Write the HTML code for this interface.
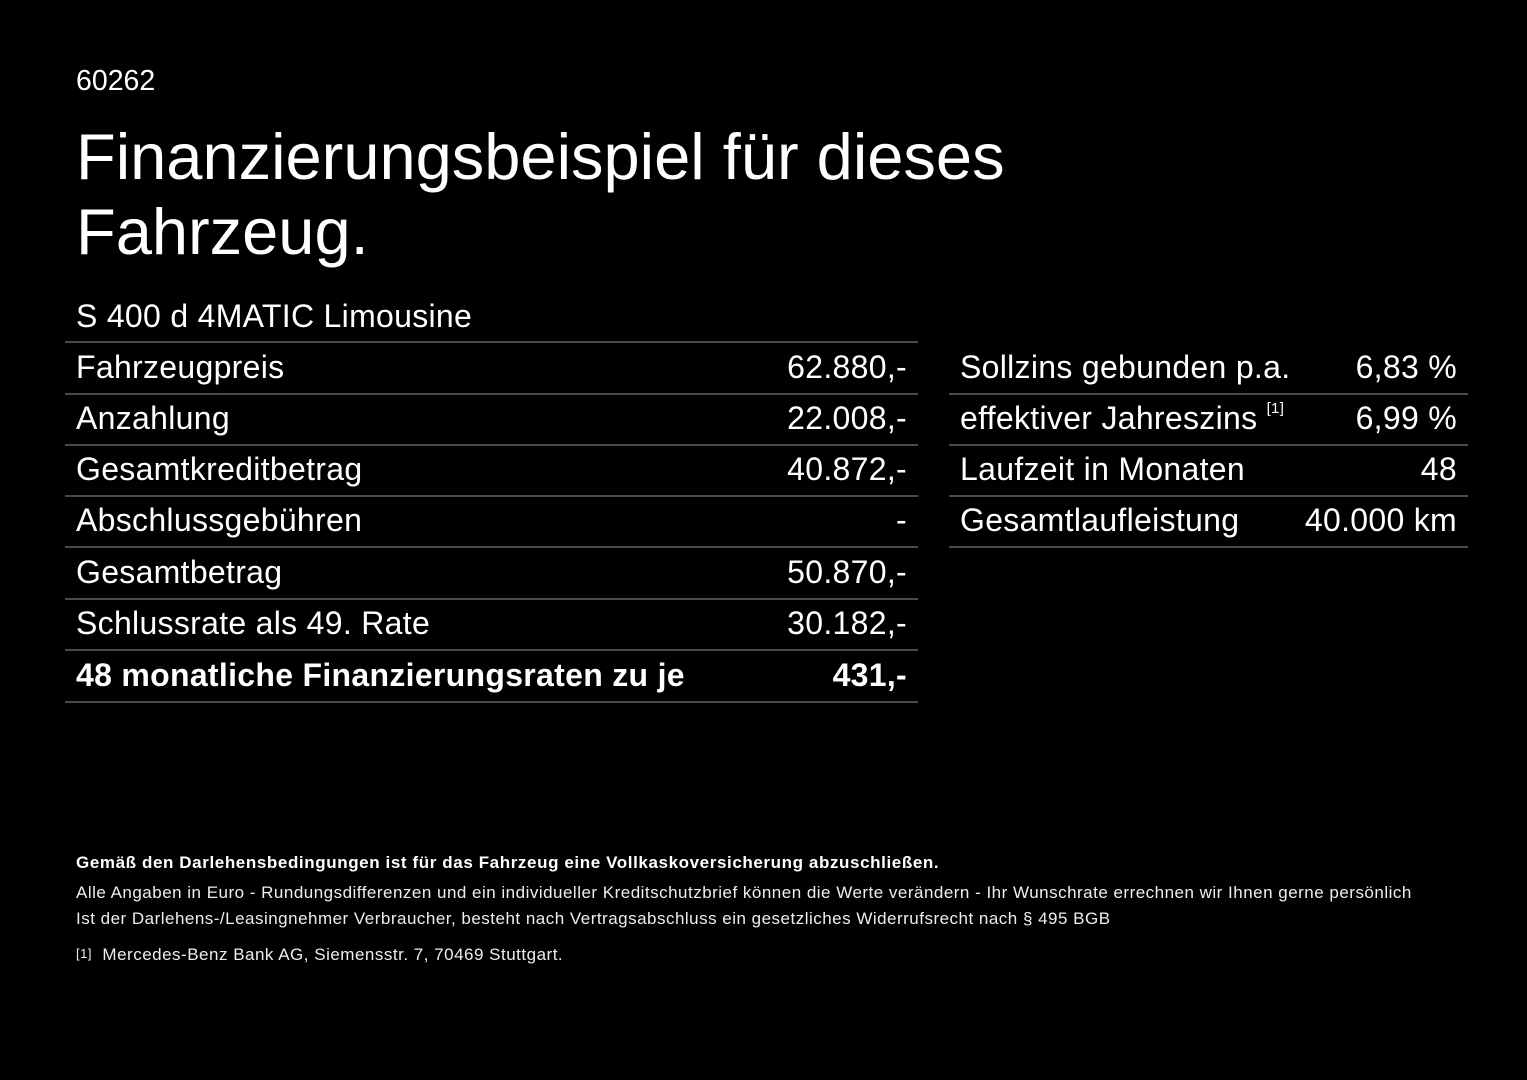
<!DOCTYPE html>
<html><head><meta charset="utf-8"><style>
body{margin:0;width:1527px;height:1080px;background:#000;color:#fff;font-family:"Liberation Sans",Arial,sans-serif;overflow:hidden;position:relative}
.a{position:absolute;white-space:nowrap}
.row{position:absolute;height:51px;border-bottom:2px solid #4a4a4a;font-size:32px;line-height:51px;letter-spacing:0.3px}
.row .l{position:absolute;left:11px}
.row .r{position:absolute;right:11px}
.line{position:absolute;height:2px;background:#4a4a4a}
sup{font-size:15px;vertical-align:top;position:relative;top:-10px}
</style></head><body>
<div class="a" style="left:76px;top:65px;font-size:28.5px;line-height:32px">60262</div>
<div class="a" style="left:76px;top:119px;font-size:65px;line-height:75px">Finanzierungsbeispiel für dieses<br>Fahrzeug.</div>
<div class="a" style="left:76px;top:298px;font-size:32px;line-height:36px;letter-spacing:0.3px">S 400 d 4MATIC Limousine</div>
<div class="line" style="left:65px;width:853px;top:341px"></div>
<div class="row" style="left:65px;width:853px;top:342px"><span class="l">Fahrzeugpreis</span><span class="r">62.880,-</span></div>
<div class="row" style="left:65px;width:853px;top:393px"><span class="l">Anzahlung</span><span class="r">22.008,-</span></div>
<div class="row" style="left:65px;width:853px;top:444px"><span class="l">Gesamtkreditbetrag</span><span class="r">40.872,-</span></div>
<div class="row" style="left:65px;width:853px;top:495px"><span class="l">Abschlussgebühren</span><span class="r">-</span></div>
<div class="row" style="left:65px;width:853px;top:547px"><span class="l">Gesamtbetrag</span><span class="r">50.870,-</span></div>
<div class="row" style="left:65px;width:853px;top:598px"><span class="l">Schlussrate als 49. Rate</span><span class="r">30.182,-</span></div>
<div class="row" style="left:65px;width:853px;top:650px;font-weight:bold"><span class="l">48 monatliche Finanzierungsraten zu je</span><span class="r">431,-</span></div>
<div class="row" style="left:949px;width:519px;top:342px"><span class="l">Sollzins gebunden p.a.</span><span class="r">6,83 %</span></div>
<div class="row" style="left:949px;width:519px;top:393px"><span class="l">effektiver Jahreszins <sup>[1]</sup></span><span class="r">6,99 %</span></div>
<div class="row" style="left:949px;width:519px;top:444px"><span class="l">Laufzeit in Monaten</span><span class="r">48</span></div>
<div class="row" style="left:949px;width:519px;top:495px"><span class="l">Gesamtlaufleistung</span><span class="r">40.000 km</span></div>
<div class="a" style="left:76px;top:853px;font-size:17px;line-height:20px;font-weight:bold;letter-spacing:0.6px">Gemäß den Darlehensbedingungen ist für das Fahrzeug eine Vollkaskoversicherung abzuschließen.</div>
<div class="a" style="left:76px;top:880px;font-size:17px;line-height:26px;color:#eee;letter-spacing:0.49px">Alle Angaben in Euro - Rundungsdifferenzen und ein individueller Kreditschutzbrief können die Werte verändern - Ihr Wunschrate errechnen wir Ihnen gerne persönlich<br>Ist der Darlehens-/Leasingnehmer Verbraucher, besteht nach Vertragsabschluss ein gesetzliches Widerrufsrecht nach § 495 BGB</div>
<div class="a" style="left:76px;top:945px;font-size:17px;line-height:20px;color:#eee;letter-spacing:0.5px"><span style="font-size:13px;position:relative;top:-2px">[1]</span>&nbsp; Mercedes-Benz Bank AG, Siemensstr. 7, 70469 Stuttgart.</div>
</body></html>
